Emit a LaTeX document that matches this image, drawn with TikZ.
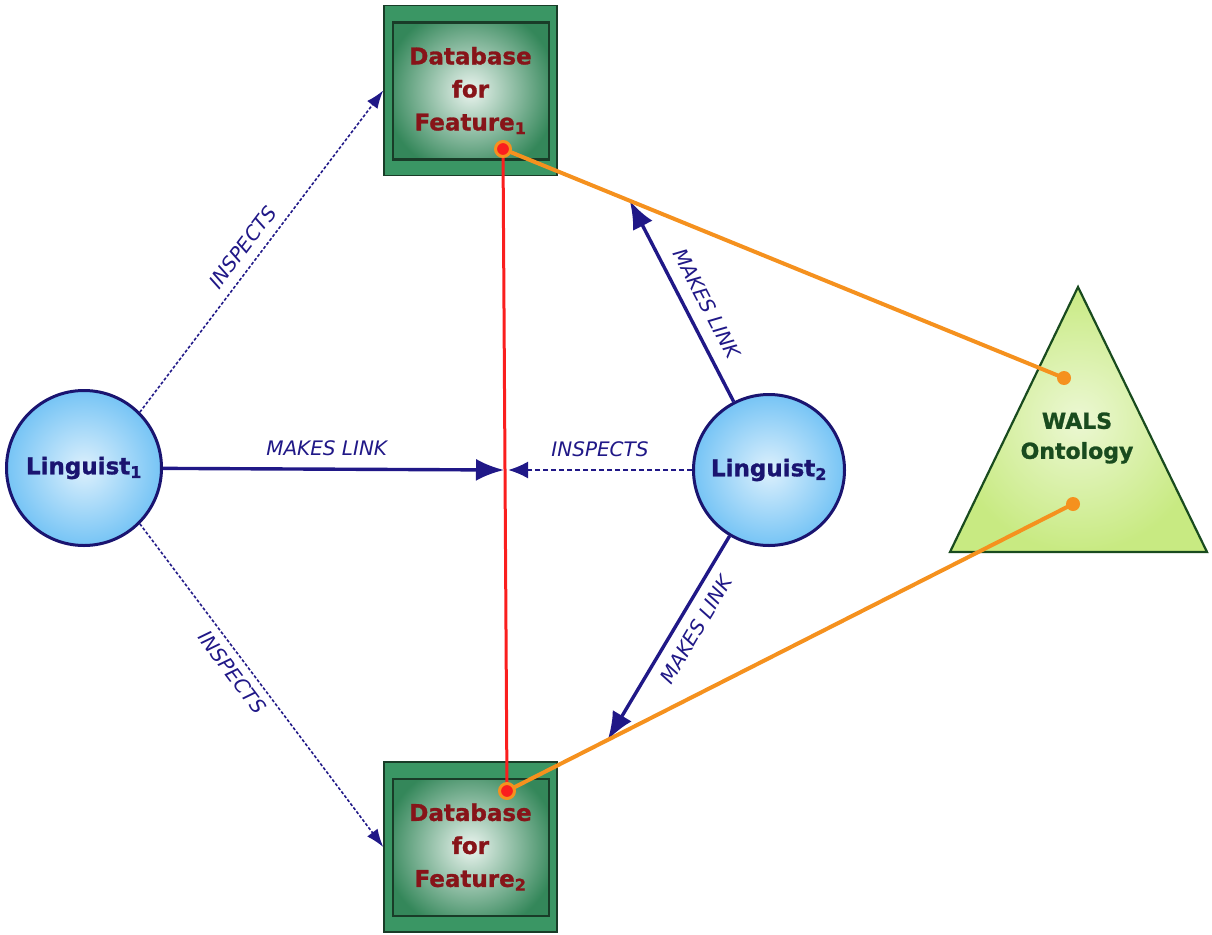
\documentclass[tikz,border=0pt]{standalone}
\usepackage{fontspec}
\setmainfont{DejaVu Sans}[BoldFeatures={FakeBold=1.2}]
\usetikzlibrary{arrows.meta,calc}
\usepackage{xcolor}

\definecolor{inkblue}{RGB}{32,24,135}
\definecolor{ringblue}{RGB}{26,20,112}
\definecolor{skyfill}{RGB}{118,196,245}
\definecolor{boxgreen}{RGB}{58,150,100}
\definecolor{boxedge}{RGB}{25,60,40}
\definecolor{dbred}{RGB}{135,20,25}
\definecolor{leafgreen}{RGB}{200,234,130}
\definecolor{walsgreen}{RGB}{25,75,30}
\definecolor{linkorange}{RGB}{245,145,30}
\definecolor{linkred}{RGB}{250,30,30}

\tikzset{
    linguist/.style={circle,draw=ringblue,line width=3pt,inner sep=0pt,
        inner color=white!75!skyfill,outer color=skyfill,text=ringblue,
        font=\fontsize{23}{28}\selectfont\bfseries},
    database/.style={rectangle,draw=boxedge,line width=1.5pt,fill=boxgreen,
        minimum width=173pt,minimum height=170pt,inner sep=0pt,align=center,
        text=dbred,font=\fontsize{23}{33}\selectfont\bfseries,
        path picture={
            \shade[inner color=white!90!boxgreen,outer color=boxgreen!90!black]
                ([shift={(9pt,-17pt)}]path picture bounding box.north west) rectangle
                ([shift={(-8pt,16pt)}]path picture bounding box.south east);
            \draw[boxedge,line width=2.2pt]
                ([shift={(9pt,-17pt)}]path picture bounding box.north west) rectangle
                ([shift={(-8pt,16pt)}]path picture bounding box.south east);
        }},
    makes/.style={draw=inkblue,line width=3.4pt,-{Latex[length=28pt,width=22pt]}},
    inspects/.style={draw=inkblue,line width=2.2pt,dash pattern=on 5pt off 3pt,
        -{Latex[length=20pt,width=17pt]}},
    peek/.style={draw=inkblue,line width=1.6pt,dash pattern=on 3pt off 2pt,
        -{Latex[length=18pt,width=13pt]}},
    tag/.style={text=inkblue,font=\fontsize{20}{23}\selectfont\itshape,inner sep=2pt},
    orangelink/.style={draw=linkorange,line width=4pt},
    redlink/.style={draw=linkred,line width=3pt},
    pindot/.style={circle,fill=linkred,draw=linkorange,line width=3pt,
        minimum size=15pt,inner sep=0pt},
    walsdot/.style={circle,fill=linkorange,minimum size=14pt,inner sep=0pt},
}

\begin{document}
\begin{tikzpicture}[x=1pt,y=-1pt]
        \useasboundingbox (0,0) rectangle (1212,934);
        \node[database] (dbA) at (470.5,90.5) {Database\\for\\Feature\textsubscript{1}};
        \node[database] (dbB) at (470.5,847) {Database\\for\\Feature\textsubscript{2}};
        \node[linguist,minimum size=155pt] (la) at (84,468) {Linguist\textsubscript{1}};
        \node[linguist,minimum size=151pt] (lb) at (769,470) {Linguist\textsubscript{2}};
        \coordinate (tipTop) at (1078,287);
        \coordinate (tipRight) at (1207,552);
        \coordinate (tipLeft) at (950,552);
        \shadedraw[inner color=white!65!leafgreen,outer color=leafgreen,draw=walsgreen,line width=2.2pt]
            (tipTop) -- (tipRight) -- (tipLeft) -- cycle;
        \node[text=walsgreen,align=center,font=\fontsize{22}{30}\selectfont\bfseries] (ontology) at (1077,438) {WALS\\Ontology};
        \coordinate (pinA) at (503,149);
        \coordinate (pinB) at (507,791);
        \coordinate (walsA) at (1064,378);
        \coordinate (walsB) at (1073,504);
        \coordinate (lnk) at ($(pinA)!0.5!(pinB)$);
        \coordinate (upLink) at ($(pinA)!0.226!(walsA)$);
        \coordinate (dnLink) at ($(pinB)!0.178!(walsB)$);
        \draw[peek] (la.45) -- node[tag,sloped,pos=0.48,above=7pt] (inspA) {INSPECTS} (dbA.west);
        \draw[peek] (la.-45) -- node[tag,sloped,pos=0.43,below=5pt] (inspB) {INSPECTS} (dbB.west);
        \draw[makes] (la) -- node[tag,pos=0.48,above=10pt] (mkA) {MAKES LINK} ([xshift=-1pt]lnk);
        \draw[inspects] (lb) -- node[tag,midway,above=10pt] (inspC) {INSPECTS} ([xshift=3pt]lnk);
        \draw[makes] (lb) -- node[tag,sloped,pos=0.44,above=10pt] (mkB) {MAKES LINK} (upLink);
        \draw[makes] (lb) -- node[tag,sloped,pos=0.41,below=8pt] (mkC) {MAKES LINK} (dnLink);
        \draw[orangelink] (pinA) -- (walsA);
        \draw[orangelink] (pinB) -- (walsB);
        \draw[redlink] (pinA) -- (pinB);
        \node[pindot] (dotA) at (pinA) {};
        \node[pindot] (dotB) at (pinB) {};
        \node[walsdot] (dotC) at (walsA) {};
        \node[walsdot] (dotD) at (walsB) {};
    \end{tikzpicture}
\end{document}
